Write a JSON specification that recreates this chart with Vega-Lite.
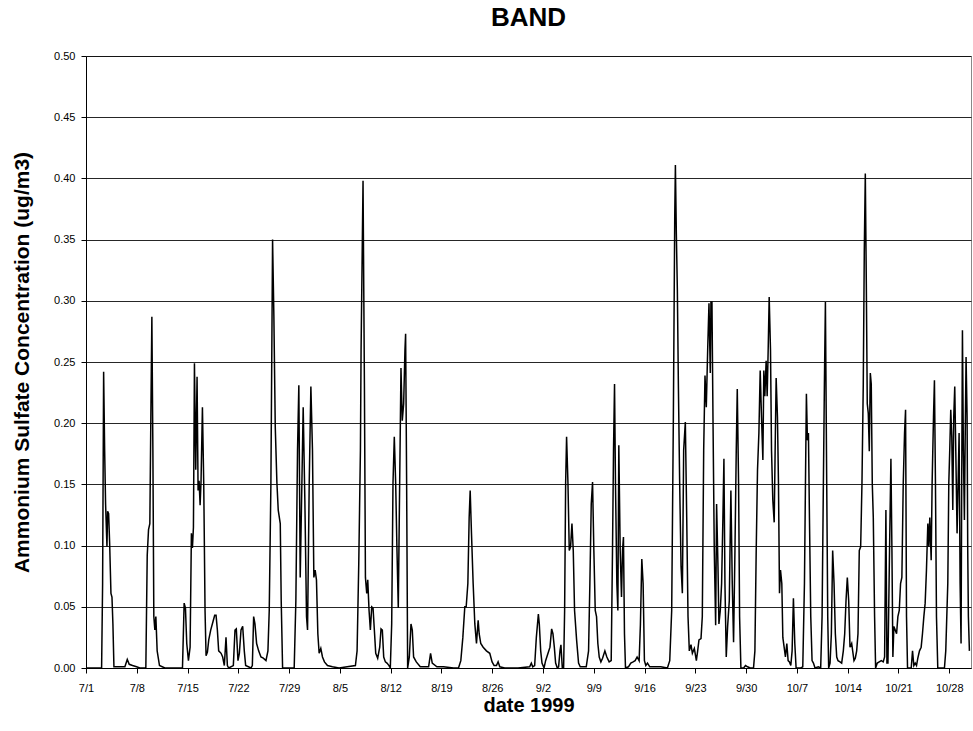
{
"$schema": "https://vega.github.io/schema/vega-lite/v6.json",
"width": 885, "height": 612,
"autosize": "none",
"padding": {"left": 86, "top": 56, "right": 2, "bottom": 63},
"background": "white",
"title": {"text": "BAND", "fontSize": 26, "font": "Liberation Sans", "fontWeight": "bold", "anchor": "middle", "frame": "group", "baseline": "alphabetic", "offset": 26, "dy": 28, "color": "black"},
"config": {"view": {"stroke": "#888", "strokeWidth": 1}, "font": "Liberation Sans"},
"data": {"values": [
{"day":0,"value":0},{"day":2.15,"value":0},{"day":2.29,"value":0.069},{"day":2.43,"value":0.242},{"day":2.57,"value":0.178},{"day":2.70,"value":0.134},{"day":2.89,"value":0.099},{"day":2.98,"value":0.128},{"day":3.12,"value":0.126},{"day":3.26,"value":0.102},{"day":3.44,"value":0.061},{"day":3.58,"value":0.058},{"day":3.71,"value":0.036},{"day":3.85,"value":0.001},{"day":4.45,"value":0.001},{"day":5.36,"value":0.001},{"day":5.69,"value":0.007},{"day":5.96,"value":0.003},{"day":6.42,"value":0.002},{"day":6.97,"value":0.001},{"day":7.43,"value":0},{"day":8.25,"value":0},{"day":8.44,"value":0.092},{"day":8.62,"value":0.113},{"day":8.80,"value":0.118},{"day":8.94,"value":0.205},{"day":9.08,"value":0.287},{"day":9.22,"value":0.178},{"day":9.35,"value":0.042},{"day":9.49,"value":0.031},{"day":9.63,"value":0.042},{"day":9.81,"value":0.014},{"day":10.13,"value":0.002},{"day":10.87,"value":0},{"day":13.30,"value":0},{"day":13.53,"value":0.053},{"day":13.71,"value":0.049},{"day":13.89,"value":0.02},{"day":14.12,"value":0.006},{"day":14.35,"value":0.017},{"day":14.53,"value":0.11},{"day":14.67,"value":0.098},{"day":14.81,"value":0.115},{"day":14.95,"value":0.249},{"day":15.13,"value":0.162},{"day":15.31,"value":0.238},{"day":15.45,"value":0.145},{"day":15.59,"value":0.153},{"day":15.73,"value":0.133},{"day":15.86,"value":0.153},{"day":16.05,"value":0.213},{"day":16.23,"value":0.151},{"day":16.41,"value":0.047},{"day":16.55,"value":0.01},{"day":16.74,"value":0.013},{"day":16.92,"value":0.023},{"day":17.19,"value":0.031},{"day":17.51,"value":0.038},{"day":17.74,"value":0.043},
{"day":17.93,"value":0.043},{"day":18.11,"value":0.031},{"day":18.29,"value":0.014},{"day":18.62,"value":0.012},{"day":18.84,"value":0.009},{"day":19.07,"value":0.002},{"day":19.30,"value":0.025},{"day":19.49,"value":0.002},{"day":19.67,"value":0},{"day":20.31,"value":0.002},{"day":20.54,"value":0.031},{"day":20.72,"value":0.032},{"day":20.95,"value":0.006},{"day":21.14,"value":0.012},{"day":21.37,"value":0.031},{"day":21.60,"value":0.034},{"day":21.82,"value":0.014},{"day":22.01,"value":0.002},{"day":22.74,"value":0},{"day":22.93,"value":0.002},{"day":23.11,"value":0.042},{"day":23.29,"value":0.036},{"day":23.52,"value":0.020},{"day":23.80,"value":0.014},{"day":24.12,"value":0.009},{"day":24.44,"value":0.008},{"day":24.81,"value":0.006},{"day":25.08,"value":0.014},{"day":25.26,"value":0.047},{"day":25.49,"value":0.151},{"day":25.72,"value":0.350},{"day":25.90,"value":0.287},{"day":26.09,"value":0.197},{"day":26.32,"value":0.151},{"day":26.50,"value":0.129},{"day":26.78,"value":0.118},{"day":26.91,"value":0.055},{"day":27.10,"value":0},{"day":28.70,"value":0},{"day":28.93,"value":0.055},{"day":29.16,"value":0.178},{"day":29.34,"value":0.231},{"day":29.53,"value":0.074},{"day":29.76,"value":0.151},{"day":29.94,"value":0.213},{"day":30.17,"value":0.137},{"day":30.40,"value":0.042},{"day":30.54,"value":0.031},{"day":30.77,"value":0.151},{"day":31.00,"value":0.230},{"day":31.22,"value":0.178},{"day":31.41,"value":0.074},{"day":31.59,"value":0.080},{"day":31.77,"value":0.072},{"day":31.96,"value":0.028},{"day":32.14,"value":0.012},{"day":32.37,"value":0.016},{"day":32.60,"value":0.009},{"day":32.87,"value":0.005},{"day":33.29,"value":0.002},{"day":33.97,"value":0.001},{"day":34.89,"value":0},
{"day":36.0,"value":0.001},{"day":37.14,"value":0.002},{"day":37.37,"value":0.014},{"day":37.60,"value":0.085},{"day":37.83,"value":0.178},{"day":37.92,"value":0.26},{"day":38.19,"value":0.398},{"day":38.38,"value":0.232},{"day":38.52,"value":0.074},{"day":38.70,"value":0.061},{"day":38.84,"value":0.072},{"day":39.02,"value":0.047},{"day":39.20,"value":0.031},{"day":39.39,"value":0.05},{"day":39.57,"value":0.049},{"day":39.75,"value":0.031},{"day":39.94,"value":0.012},{"day":40.21,"value":0.008},{"day":40.49,"value":0.017},{"day":40.67,"value":0.032},{"day":40.85,"value":0.031},{"day":41.04,"value":0.009},{"day":41.27,"value":0.005},{"day":41.49,"value":0.004},{"day":41.77,"value":0.002},{"day":41.95,"value":0},{"day":42.14,"value":0.036},{"day":42.32,"value":0.151},{"day":42.50,"value":0.189},{"day":42.69,"value":0.151},{"day":42.87,"value":0.096},{"day":43.05,"value":0.049},{"day":43.24,"value":0.151},{"day":43.42,"value":0.245},{"day":43.60,"value":0.202},{"day":43.79,"value":0.216},{"day":43.97,"value":0.26},{"day":44.06,"value":0.273},{"day":44.20,"value":0.151},{"day":44.34,"value":0},{"day":44.57,"value":0.009},{"day":44.80,"value":0.036},{"day":44.98,"value":0.031},{"day":45.16,"value":0.009},{"day":45.53,"value":0.005},{"day":46.08,"value":0.001},{"day":47.23,"value":0.001},{"day":47.50,"value":0.012},{"day":47.73,"value":0.004},{"day":48.37,"value":0.001},{"day":49.29,"value":0.001},{"day":50.67,"value":0},{"day":51.35,"value":0},{"day":51.67,"value":0.006},{"day":51.95,"value":0.025},{"day":52.22,"value":0.05},{"day":52.41,"value":0.05},{"day":52.64,"value":0.069},{"day":52.82,"value":0.123},{"day":52.96,"value":0.145},
{"day":53.14,"value":0.11},{"day":53.37,"value":0.069},{"day":53.60,"value":0.036},{"day":53.83,"value":0.02},{"day":54.06,"value":0.039},{"day":54.20,"value":0.028},{"day":54.42,"value":0.02},{"day":54.75,"value":0.017},{"day":55.20,"value":0.014},{"day":55.66,"value":0.012},{"day":55.98,"value":0.005},{"day":56.26,"value":0.002},{"day":56.58,"value":0.002},{"day":56.81,"value":0.005},{"day":57.04,"value":0.001},{"day":57.73,"value":0},{"day":59.56,"value":0},{"day":61.16,"value":0.001},{"day":61.39,"value":0.004},{"day":61.58,"value":0.001},{"day":61.85,"value":0.002},{"day":62.08,"value":0.025},{"day":62.36,"value":0.044},{"day":62.49,"value":0.036},{"day":62.68,"value":0.014},{"day":62.86,"value":0.004},{"day":63.14,"value":0},{"day":63.36,"value":0.006},{"day":63.69,"value":0.012},{"day":63.96,"value":0.017},{"day":64.19,"value":0.032},{"day":64.37,"value":0.028},{"day":64.56,"value":0.017},{"day":64.74,"value":0.004},{"day":64.97,"value":0},{"day":65.15,"value":0.001},{"day":65.34,"value":0.014},{"day":65.47,"value":0.019},{"day":65.66,"value":0},{"day":65.84,"value":0},{"day":65.98,"value":0.047},{"day":66.12,"value":0.151},{"day":66.25,"value":0.189},{"day":66.44,"value":0.151},{"day":66.62,"value":0.096},{"day":66.80,"value":0.099},{"day":66.99,"value":0.118},{"day":67.17,"value":0.096},{"day":67.35,"value":0.047},{"day":67.63,"value":0.023},{"day":67.90,"value":0.004},{"day":68.13,"value":0.001},{"day":68.50,"value":0.001},{"day":68.96,"value":0.001},{"day":69.28,"value":0.014},{"day":69.46,"value":0.069},{"day":69.65,"value":0.134},{"day":69.83,"value":0.152},{"day":70.01,"value":0.096},{"day":70.20,"value":0.047},{"day":70.38,"value":0.042},{"day":70.56,"value":0.02},
{"day":70.75,"value":0.009},{"day":70.98,"value":0.005},{"day":71.21,"value":0.008},{"day":71.53,"value":0.014},{"day":71.80,"value":0.009},{"day":72.12,"value":0.005},{"day":72.40,"value":0.006},{"day":72.58,"value":0.096},{"day":72.72,"value":0.178},{"day":72.86,"value":0.232},{"day":72.99,"value":0.151},{"day":73.18,"value":0.069},{"day":73.32,"value":0.047},{"day":73.45,"value":0.182},{"day":73.64,"value":0.096},{"day":73.82,"value":0.058},{"day":73.96,"value":0.096},{"day":74.09,"value":0.107},{"day":74.23,"value":0.028},{"day":74.37,"value":0},{"day":74.78,"value":0.001},{"day":75.10,"value":0.004},{"day":75.42,"value":0.005},{"day":75.70,"value":0.006},{"day":75.97,"value":0.009},{"day":76.25,"value":0.006},{"day":76.43,"value":0.036},{"day":76.62,"value":0.089},{"day":76.80,"value":0.069},{"day":76.98,"value":0.006},{"day":77.17,"value":0.002},{"day":77.40,"value":0.004},{"day":77.72,"value":0.001},{"day":78.31,"value":0.001},{"day":79.23,"value":0.001},{"day":80.15,"value":0},{"day":80.47,"value":0.006},{"day":80.74,"value":0.047},{"day":80.97,"value":0.205},{"day":81.16,"value":0.369},{"day":81.25,"value":0.411},{"day":81.38,"value":0.355},{"day":81.52,"value":0.309},{"day":81.66,"value":0.232},{"day":81.84,"value":0.151},{"day":82.03,"value":0.083},{"day":82.21,"value":0.061},{"day":82.39,"value":0.178},{"day":82.62,"value":0.201},{"day":82.81,"value":0.123},{"day":82.99,"value":0.042},{"day":83.17,"value":0.014},{"day":83.40,"value":0.019},{"day":83.59,"value":0.012},{"day":83.86,"value":0.016},{"day":84.14,"value":0.006},{"day":84.32,"value":0.014},{"day":84.50,"value":0.023},{"day":84.78,"value":0.024},{"day":84.96,"value":0.042},{"day":85.15,"value":0.178},{"day":85.33,"value":0.239},{"day":85.51,"value":0.213},{"day":85.70,"value":0.26},{"day":85.88,"value":0.298},{"day":86.06,"value":0.241},{"day":86.15,"value":0.299},{"day":86.29,"value":0.299},{"day":86.43,"value":0.205},{"day":86.61,"value":0.096},{"day":86.80,"value":0.035},{"day":86.93,"value":0.134},{"day":87.12,"value":0.083},{"day":87.25,"value":0.036},{"day":87.44,"value":0.047},{"day":87.62,"value":0.069},{"day":87.80,"value":0.123},{"day":87.94,"value":0.171},
{"day":88.08,"value":0.069},{"day":88.26,"value":0.009},{"day":88.45,"value":0.034},{"day":88.68,"value":0.055},{"day":88.90,"value":0.145},{"day":89.09,"value":0.069},{"day":89.27,"value":0.021},{"day":89.46,"value":0.096},{"day":89.64,"value":0.178},{"day":89.78,"value":0.228},{"day":89.96,"value":0.151},{"day":90.10,"value":0.042},{"day":90.28,"value":0},{"day":90.65,"value":0},{"day":90.92,"value":0.002},{"day":91.20,"value":0.001},{"day":91.56,"value":0},{"day":92.02,"value":0},{"day":92.21,"value":0.014},{"day":92.39,"value":0.096},{"day":92.57,"value":0.162},{"day":92.76,"value":0.192},{"day":92.94,"value":0.243},{"day":93.12,"value":0.205},{"day":93.31,"value":0.17},{"day":93.44,"value":0.243},{"day":93.58,"value":0.222},{"day":93.76,"value":0.251},{"day":93.90,"value":0.222},{"day":94.04,"value":0.26},{"day":94.18,"value":0.303},{"day":94.36,"value":0.26},{"day":94.50,"value":0.178},{"day":94.68,"value":0.137},{"day":94.87,"value":0.119},{"day":95.00,"value":0.178},{"day":95.14,"value":0.237},{"day":95.32,"value":0.205},{"day":95.46,"value":0.151},{"day":95.60,"value":0.061},{"day":95.74,"value":0.08},{"day":95.92,"value":0.069},{"day":96.06,"value":0.025},{"day":96.24,"value":0.017},{"day":96.42,"value":0.009},{"day":96.61,"value":0.02},{"day":96.79,"value":0.006},{"day":96.97,"value":0.005},{"day":97.16,"value":0.002},{"day":97.34,"value":0.014},{"day":97.52,"value":0.057},{"day":97.71,"value":0.02},{"day":97.89,"value":0},{"day":98.53,"value":0},{"day":98.81,"value":0.001},{"day":99.04,"value":0.069},{"day":99.18,"value":0.151},{"day":99.31,"value":0.224},{"day":99.45,"value":0.186},{"day":99.59,"value":0.192},{"day":99.73,"value":0.123},{"day":99.91,"value":0.042},{"day":100.09,"value":0.006},{"day":100.28,"value":0.004},{"day":100.50,"value":0},{"day":100.96,"value":0.001},{"day":101.28,"value":0},{"day":101.47,"value":0.042},{"day":101.65,"value":0.151},{"day":101.79,"value":0.232},{"day":101.93,"value":0.299},{"day":102.11,"value":0.151},{"day":102.25,"value":0.042},{"day":102.38,"value":0},{"day":102.57,"value":0.004},{"day":102.75,"value":0.028},{"day":102.93,"value":0.096},{"day":103.12,"value":0.069},{"day":103.30,"value":0.028},{"day":103.49,"value":0.009},{"day":103.67,"value":0.006},{"day":103.94,"value":0.005},{"day":104.17,"value":0.004},{"day":104.40,"value":0.014},{"day":104.59,"value":0.028},{"day":104.77,"value":0.055},{"day":104.95,"value":0.074},{"day":105.14,"value":0.055},{"day":105.32,"value":0.017},{"day":105.55,"value":0.02},
{"day":105.87,"value":0.006},{"day":106.05,"value":0.008},{"day":106.24,"value":0.014},{"day":106.42,"value":0.028},{"day":106.60,"value":0.096},{"day":106.79,"value":0.099},{"day":106.97,"value":0.151},{"day":107.15,"value":0.232},{"day":107.29,"value":0.341},{"day":107.43,"value":0.404},{"day":107.57,"value":0.314},{"day":107.70,"value":0.216},{"day":107.84,"value":0.208},{"day":107.98,"value":0.177},{"day":108.12,"value":0.241},{"day":108.25,"value":0.232},{"day":108.39,"value":0.151},{"day":108.53,"value":0.123},{"day":108.71,"value":0.042},{"day":108.85,"value":0},{"day":109.08,"value":0.004},{"day":109.35,"value":0.005},{"day":109.63,"value":0.006},{"day":109.90,"value":0.005},{"day":110.09,"value":0.009},{"day":110.27,"value":0.129},{"day":110.41,"value":0.004},{"day":110.55,"value":0.004},{"day":110.77,"value":0.096},{"day":110.96,"value":0.171},{"day":111.10,"value":0.096},{"day":111.23,"value":0.009},{"day":111.37,"value":0.034},{"day":111.55,"value":0.031},{"day":111.74,"value":0.028},{"day":111.92,"value":0.042},{"day":112.11,"value":0.047},{"day":112.29,"value":0.069},{"day":112.47,"value":0.074},{"day":112.66,"value":0.151},{"day":112.84,"value":0.192},{"day":112.98,"value":0.211},{"day":113.11,"value":0.042},{"day":113.25,"value":0},{"day":113.76,"value":0},{"day":113.94,"value":0.014},{"day":114.12,"value":0.002},{"day":114.31,"value":0.004},{"day":114.49,"value":0.002},{"day":114.67,"value":0.008},{"day":114.90,"value":0.014},{"day":115.13,"value":0.017},{"day":115.31,"value":0.028},{"day":115.50,"value":0.042},{"day":115.68,"value":0.053},{"day":115.86,"value":0.08},{"day":116.05,"value":0.118},{"day":116.19,"value":0.099},{"day":116.32,"value":0.123},{"day":116.51,"value":0.088},{"day":116.64,"value":0.151},{"day":116.83,"value":0.205},{"day":116.96,"value":0.235},{"day":117.10,"value":0.151},{"day":117.24,"value":0.042},{"day":117.42,"value":0},{"day":118.34,"value":0},{"day":118.52,"value":0.014},{"day":118.80,"value":0.069},{"day":118.94,"value":0.151},{"day":119.07,"value":0.178},{"day":119.21,"value":0.211},{"day":119.35,"value":0.189},{"day":119.49,"value":0.129},{"day":119.62,"value":0.205},{"day":119.76,"value":0.23},{"day":119.90,"value":0.178},{"day":120.08,"value":0.11},{"day":120.22,"value":0.151},{"day":120.36,"value":0.192},{"day":120.50,"value":0.069},{"day":120.63,"value":0.02},{"day":120.72,"value":0.151},{"day":120.82,"value":0.276},{"day":120.95,"value":0.178},{"day":121.09,"value":0.121},{"day":121.18,"value":0.178},{"day":121.32,"value":0.254},{"day":121.46,"value":0.205},{"day":121.55,"value":0.096},{"day":121.64,"value":0.042},{"day":121.78,"value":0.014}
]},
"mark": {"type": "line", "color": "black", "strokeWidth": 1.5, "clip": true},
"encoding": {
"x": {"field": "day", "type": "quantitative",
 "scale": {"domain": [0, 122], "nice": false, "zero": false},
 "axis": {"title": "date 1999", "values": [0,7,14,21,28,35,42,49,56,63,70,77,84,91,98,105,112,119],
  "labelExpr": "(month(datetime(1999, 6, 1 + datum.value)) + 1) + '/' + date(datetime(1999, 6, 1 + datum.value))",
  "grid": false, "domainColor": "black", "domainWidth": 1, "tickColor": "black", "tickSize": 5, "labelPadding": 9,
  "labelFontSize": 11, "labelFont": "Liberation Sans", "labelColor": "black", "labelFlush": false,
  "titleFontSize": 20, "titleFont": "Liberation Sans", "titleFontWeight": "bold", "titleColor": "black", "titlePadding": 2}},
"y": {"field": "value", "type": "quantitative",
 "scale": {"domain": [0, 0.5], "nice": false},
 "axis": {"title": "Ammonium Sulfate Concentration (ug/m3)", "values": [0,0.05,0.1,0.15,0.2,0.25,0.3,0.35,0.4,0.45,0.5], "format": ".2f",
  "grid": true, "gridColor": "black", "gridWidth": 1, "gridOpacity": 0.85, "domainColor": "black", "tickColor": "black", "tickSize": 5, "labelPadding": 6,
  "labelFontSize": 11, "labelFont": "Liberation Sans", "labelColor": "black", "labelFlush": false,
  "titleFontSize": 21, "titleFont": "Liberation Sans", "titleFontWeight": "bold", "titleColor": "black", "titlePadding": 21}}
}
}
